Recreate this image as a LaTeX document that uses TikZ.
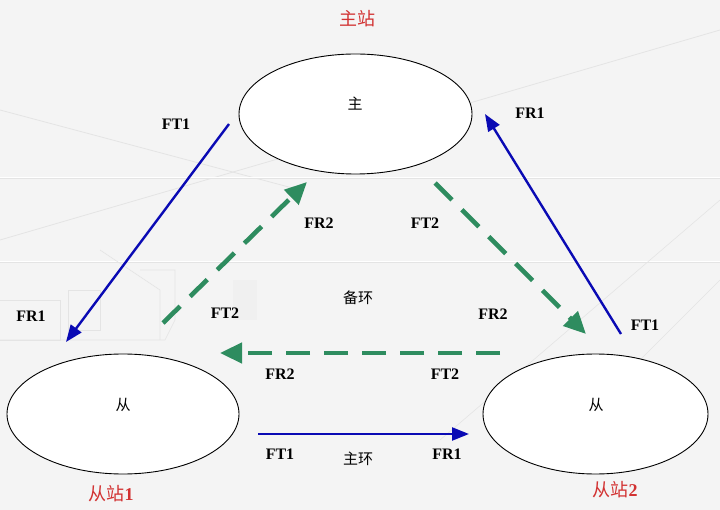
\documentclass[tikz,border=0pt]{standalone}
\usepackage{fontspec}
\setmainfont{Liberation Serif}
\newfontfamily\cjk{Noto Sans CJK SC}
\usetikzlibrary{arrows.meta,shapes.geometric}
\definecolor{ringblue}{RGB}{10,10,180}
\definecolor{ringgreen}{RGB}{46,140,95}
\definecolor{stred}{RGB}{210,50,50}
\definecolor{bggrey}{RGB}{244,244,244}
\definecolor{bgline}{RGB}{228,228,228}
\tikzset{
  station/.style={draw=black, line width=0.9pt, fill=white, ellipse, inner sep=0pt},
  mainring/.style={draw=ringblue, line width=2.4pt, -{Triangle[length=17pt,width=13pt]}},
  backring/.style={draw=ringgreen, line width=4.6pt, dash pattern=on 24pt off 14pt, -{Triangle[length=22pt,width=20pt]}},
  lbl/.style={font=\bfseries\fontsize{16}{18}\selectfont, inner sep=0pt},
  cn/.style={font=\cjk\fontsize{15}{17}\selectfont, inner sep=0pt},
  stname/.style={font=\cjk\fontsize{18}{20}\selectfont, text=stred, inner sep=0pt},
}
\newcommand{\dg}[1]{{\normalfont\bfseries #1}}
\begin{document}
\begin{tikzpicture}[x=1pt,y=-1pt]
\useasboundingbox (0,0) rectangle (720,510);
\fill[bggrey] (0,0) rectangle (720,510);
% faint background decoration
\draw[bgline, line width=0.8pt] (0,240) -- (720,30);
\draw[bgline, line width=0.8pt] (0,110) -- (300,190);
\draw[white, line width=1.5pt] (0,178) -- (720,178);
\draw[white, line width=1.5pt] (0,262) -- (720,262);
\draw[bgline, line width=0.6pt] (0,178) -- (720,178);
\draw[bgline, line width=0.6pt] (0,262) -- (720,262);
\draw[bgline, line width=0.6pt] (0,300) -- (60,300) -- (60,340) -- (0,340);
\draw[bgline, line width=0.6pt] (68,290) rectangle (100,330);
\draw[bgline, line width=0.6pt] (140,270) -- (175,270) -- (175,320) -- (165,340) -- (0,340);
\draw[bgline, line width=0.6pt] (100,250) -- (160,290) -- (160,340);
\draw[bgline, line width=0.6pt] (560,440) -- (720,280);
\draw[bgline, line width=0.6pt] (440,440) -- (720,200);
\fill[black!6] (233,280) rectangle (257,320);

% stations
\node[station, minimum width=233pt, minimum height=120pt] (m) at (355.5,114) {};
\node[station, minimum width=232pt, minimum height=120pt] (s1) at (123,414) {};
\node[station, minimum width=225pt, minimum height=120pt] (s2) at (595.5,414) {};
\node[cn] (mt) at (355,104) {主};
\node[cn] (s1t) at (123,405) {从};
\node[cn] (s2t) at (596,405) {从};

\node[stname] (mn) at (357,19) {主站};
\node[stname] (s1n) at (111,494) {从站\dg{1}};
\node[stname] (s2n) at (615,490) {从站\dg{2}};

% connector end points
\coordinate (a1) at (229,124);
\coordinate (a2) at (66,342);
\coordinate (b1) at (621,334);
\coordinate (b2) at (485,114);
\coordinate (c1) at (258,434);
\coordinate (c2) at (469,434);
\coordinate (d1) at (163,323);
\coordinate (d2) at (307,182);
\coordinate (e1) at (435,183);
\coordinate (e2) at (586,334);
\coordinate (f1) at (500,353);
\coordinate (f2) at (220,353);

% main ring (blue)
\draw[mainring] (a1) -- (a2);
\draw[mainring] (b1) -- (b2);
\draw[mainring] (c1) -- (c2);
% backup ring (green dashed)
\draw[backring] (d1) -- (d2);
\draw[backring] (e1) -- (e2);
\draw[backring] (f1) -- (f2);

% labels
\node[lbl] (l1) at (176,124) {FT1};
\node[lbl] (l2) at (31,316) {FR1};
\node[lbl] (l3) at (530,113) {FR1};
\node[lbl] (l4) at (645,325) {FT1};
\node[lbl] (l5) at (280,454) {FT1};
\node[lbl] (l6) at (447,454) {FR1};
\node[lbl] (l7) at (319,223) {FR2};
\node[lbl] (l8) at (425,223) {FT2};
\node[lbl] (l9) at (225,313) {FT2};
\node[lbl] (l10) at (493,314) {FR2};
\node[lbl] (l11) at (445,374) {FT2};
\node[lbl] (l12) at (280,374) {FR2};
\node[cn] (bh) at (358,298) {备环};
\node[cn] (zh) at (358,459) {主环};
\end{tikzpicture}
\end{document}
